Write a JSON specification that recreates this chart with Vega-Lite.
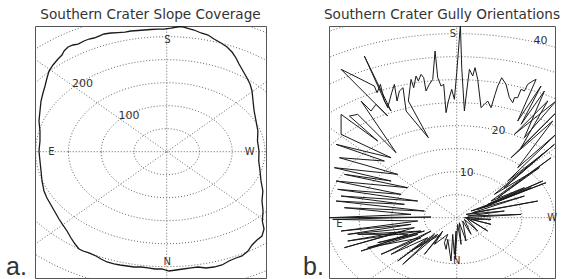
{
"$schema": "https://vega.github.io/schema/vega-lite/v6.json",
"padding": {"left": 5, "top": 7, "right": 0, "bottom": 0},
"config": {"view": {"stroke": "#555", "strokeWidth": 1}, "title": {"font": "DejaVu Sans", "fontSize": 13.6, "fontWeight": "normal", "color": "#333", "offset": 4}},
"spacing": 63,
"bounds": "flush",
"resolve": {"scale": {"size": "independent"}},
"datasets": {
"ringsA": [{"r":50},{"r":100},{"r":150},{"r":200},{"r":250},{"r":300},{"r":350}],
"ringsB": [{"r":5},{"r":10},{"r":15},{"r":20},{"r":25},{"r":30},{"r":35},{"r":40},{"r":45}],
"radialA": [{"x":0,"y":-400,"x2":0,"y2":400},{"x":-400,"y":0,"x2":400,"y2":0},{"x":-400,"y":-400,"x2":400,"y2":400},{"x":-400,"y":400,"x2":400,"y2":-400}],
"radialB": [{"x":0,"y":-60,"x2":0,"y2":60},{"x":-60,"y":0,"x2":60,"y2":0},{"x":-60,"y":-60,"x2":60,"y2":60},{"x":-60,"y":60,"x2":60,"y2":-60}],
"dirA": [{"t":"E","x":-175.9,"y":0},{"t":"W","x":126.7,"y":0},{"t":"S","x":0.9,"y":243.3},{"t":"N","x":0.8,"y":-239.8}],
"dirB": [{"t":"E","x":-18.06,"y":-1.43},{"t":"W","x":14.69,"y":0},{"t":"S","x":-0.57,"y":39.87},{"t":"N","x":0.02,"y":-9.48}],
"ringLabA": [{"t":"100","x":-70.7,"y":70.7},{"t":"200","x":-141.4,"y":141.4}],
"ringLabB": [{"t":"10","x":1.55,"y":9.72},{"t":"20","x":6.43,"y":18.85},{"t":"40","x":12.89,"y":38.41}],
"panelA": [{"t":"a.","x":-245.4,"y":-267.5}],
"panelB": [{"t":"b.","x":-23.65,"y":-12.35}],
"curveA": [
{"i":0,"x":-156.8,"y":218.9},{"i":1,"x":-150.7,"y":227.6},{"i":2,"x":-143.1,"y":232.0},{"i":3,"x":-135.4,"y":234.1},{"i":4,"x":-126.3,"y":240.7},{"i":5,"x":-118.6,"y":245.0},{"i":6,"x":-111.0,"y":247.2},{"i":7,"x":-103.4,"y":251.5},{"i":8,"x":-95.7,"y":255.9},{"i":9,"x":-85.1,"y":258.1},{"i":10,"x":-74.4,"y":259.1},{"i":11,"x":-63.7,"y":260.2},{"i":12,"x":-54.5,"y":262.4},{"i":13,"x":-43.8,"y":263.5},{"i":14,"x":-34.7,"y":264.6},{"i":15,"x":-24.0,"y":265.7},{"i":16,"x":-13.3,"y":266.7},{"i":17,"x":-4.1,"y":266.7},{"i":18,"x":6.6,"y":268.9},{"i":19,"x":15.7,"y":271.1},{"i":20,"x":23.4,"y":272.2},{"i":21,"x":31.0,"y":268.9},{"i":22,"x":41.7,"y":264.6},{"i":23,"x":52.4,"y":258.1},{"i":24,"x":63.1,"y":253.7},{"i":25,"x":72.2,"y":245.0},{"i":26,"x":82.9,"y":236.3},{"i":27,"x":92.1,"y":227.6},{"i":28,"x":99.7,"y":216.7},{"i":29,"x":105.8,"y":203.7},{"i":30,"x":110.4,"y":190.7},{"i":31,"x":116.5,"y":175.4},{"i":32,"x":122.6,"y":160.2},{"i":33,"x":127.2,"y":147.2},{"i":34,"x":130.3,"y":132.0},{"i":35,"x":131.8,"y":110.2},{"i":36,"x":133.5,"y":88.5},{"i":37,"x":136.4,"y":66.7},{"i":38,"x":139.2,"y":45.0},{"i":39,"x":138.6,"y":23.3},{"i":40,"x":140.9,"y":1.5},{"i":41,"x":140.5,"y":-20.2},{"i":42,"x":142.5,"y":-42.0},{"i":43,"x":144.0,"y":-63.7},{"i":44,"x":146.8,"y":-85.4},{"i":45,"x":145.5,"y":-107.2},{"i":46,"x":147.1,"y":-128.9},{"i":47,"x":146.0,"y":-150.7},{"i":48,"x":148.6,"y":-168.1},{"i":49,"x":145.5,"y":-183.3},{"i":50,"x":137.9,"y":-192.0},{"i":51,"x":130.3,"y":-202.8},{"i":52,"x":124.1,"y":-215.9},{"i":53,"x":115.0,"y":-226.7},{"i":54,"x":105.8,"y":-231.1},{"i":55,"x":95.1,"y":-237.6},{"i":56,"x":84.4,"y":-246.3},{"i":57,"x":72.2,"y":-250.7},{"i":58,"x":60.0,"y":-252.8},{"i":59,"x":47.8,"y":-250.7},{"i":60,"x":37.1,"y":-252.8},{"i":61,"x":24.9,"y":-255.0},{"i":62,"x":14.2,"y":-257.2},{"i":63,"x":3.5,"y":-259.4},{"i":64,"x":-7.2,"y":-255.0},{"i":65,"x":-17.9,"y":-255.0},{"i":66,"x":-28.6,"y":-252.8},{"i":67,"x":-39.2,"y":-250.7},{"i":68,"x":-49.9,"y":-250.7},{"i":69,"x":-60.6,"y":-248.5},{"i":70,"x":-71.3,"y":-246.3},{"i":71,"x":-80.5,"y":-244.1},{"i":72,"x":-91.2,"y":-239.8},{"i":73,"x":-100.3,"y":-233.3},{"i":74,"x":-108.0,"y":-226.7},{"i":75,"x":-118.6,"y":-220.2},{"i":76,"x":-127.8,"y":-215.9},{"i":77,"x":-133.9,"y":-211.5},{"i":78,"x":-140.0,"y":-200.7},{"i":79,"x":-146.1,"y":-187.6},{"i":80,"x":-152.2,"y":-172.4},{"i":81,"x":-158.4,"y":-159.4},{"i":82,"x":-164.5,"y":-146.3},{"i":83,"x":-170.6,"y":-131.1},{"i":84,"x":-176.7,"y":-115.9},{"i":85,"x":-182.8,"y":-100.7},{"i":86,"x":-187.4,"y":-85.4},{"i":87,"x":-190.4,"y":-63.7},{"i":88,"x":-191.9,"y":-42.0},{"i":89,"x":-193.5,"y":-20.2},{"i":90,"x":-195.0,"y":1.5},{"i":91,"x":-193.5,"y":23.3},{"i":92,"x":-193.5,"y":45.0},{"i":93,"x":-195.0,"y":66.7},{"i":94,"x":-193.5,"y":88.5},{"i":95,"x":-191.9,"y":110.2},{"i":96,"x":-188.9,"y":127.6},{"i":97,"x":-185.8,"y":142.8},{"i":98,"x":-182.8,"y":160.2},{"i":99,"x":-179.7,"y":175.4},{"i":100,"x":-173.6,"y":188.5},{"i":101,"x":-166.0,"y":201.5},{"i":102,"x":-159.9,"y":210.2},{"i":103,"x":-156.8,"y":218.9}
],
"gullyB": [
{"i":0,"x":5.28,"y":-0.36},{"i":1,"x":1.18,"y":0},{"i":2,"x":9.9,"y":0.72},{"i":3,"x":1.69,"y":0.36},{"i":4,"x":7.33,"y":1.45},{"i":5,"x":1.44,"y":0.72},{"i":6,"x":12.46,"y":3.62},{"i":7,"x":2.46,"y":1.09},{"i":8,"x":10.41,"y":4.71},{"i":9,"x":2.21,"y":1.45},{"i":10,"x":13.74,"y":7.61},{"i":11,"x":3.23,"y":1.81},{"i":12,"x":11.44,"y":6.52},{"i":13,"x":4,"y":2.17},{"i":14,"x":13.23,"y":7.97},{"i":15,"x":4.77,"y":2.9},{"i":16,"x":10.41,"y":6.52},{"i":17,"x":5.28,"y":3.62},{"i":18,"x":14.51,"y":13.04},{"i":19,"x":6.31,"y":4.35},{"i":20,"x":12.72,"y":10.87},{"i":21,"x":5.79,"y":5.07},{"i":22,"x":15.03,"y":15.94},{"i":23,"x":7.33,"y":6.52},{"i":24,"x":13.49,"y":14.13},{"i":25,"x":7.85,"y":7.97},{"i":26,"x":15.54,"y":18.48},{"i":27,"x":9.38,"y":10.87},{"i":28,"x":14.77,"y":21.01},{"i":29,"x":8.36,"y":13.04},{"i":30,"x":15.54,"y":23.19},{"i":31,"x":9.9,"y":15.22},{"i":32,"x":14,"y":25.36},{"i":33,"x":8.87,"y":18.12},{"i":34,"x":15.28,"y":25.36},{"i":35,"x":10.41,"y":17.39},{"i":36,"x":13.49,"y":27.54},{"i":37,"x":9.9,"y":20.29},{"i":38,"x":12.97,"y":28.62},{"i":39,"x":9.38,"y":21.01},{"i":40,"x":12.21,"y":30.07},
{"i":41,"x":11.69,"y":29.71},{"i":42,"x":10.92,"y":28.99},{"i":43,"x":10.41,"y":27.54},{"i":44,"x":9.9,"y":27.9},{"i":45,"x":9.38,"y":26.09},{"i":46,"x":8.87,"y":26.09},{"i":47,"x":8.62,"y":25},{"i":48,"x":8.1,"y":26.09},{"i":49,"x":7.59,"y":28.99},{"i":50,"x":6.92,"y":30.43},{"i":51,"x":6.31,"y":28.62},{"i":52,"x":5.9,"y":26.81},{"i":53,"x":5.28,"y":23.91},{"i":54,"x":4.77,"y":25.36},{"i":55,"x":4.26,"y":24.64},{"i":56,"x":3.74,"y":23.91},{"i":57,"x":3.23,"y":30.07},{"i":58,"x":2.82,"y":32.61},{"i":59,"x":2.46,"y":30.8},{"i":60,"x":1.95,"y":32.25},{"i":61,"x":1.54,"y":27.54},{"i":62,"x":1.18,"y":23.19},{"i":63,"x":0.77,"y":32.61},{"i":64,"x":0.56,"y":42.03},{"i":65,"x":0.26,"y":36.23},{"i":66,"x":0,"y":31.52},{"i":67,"x":-0.36,"y":25.72},{"i":68,"x":-0.77,"y":27.9},{"i":69,"x":-1.28,"y":25.36},{"i":70,"x":-1.64,"y":22.83},{"i":71,"x":-2,"y":28.99},{"i":72,"x":-2.41,"y":28.62},{"i":73,"x":-2.92,"y":30.43},{"i":74,"x":-3.33,"y":36.23},{"i":75,"x":-3.69,"y":30.07},{"i":76,"x":-4.21,"y":28.99},{"i":77,"x":-4.72,"y":27.54},{"i":78,"x":-5.08,"y":30.43},{"i":79,"x":-5.49,"y":31.16},{"i":80,"x":-5.9,"y":29.71},{"i":81,"x":-6.26,"y":30.8},{"i":82,"x":-6.62,"y":28.26},{"i":83,"x":-7.03,"y":30.07},{"i":84,"x":-7.44,"y":25.36},{"i":85,"x":-4.36,"y":17.39},{"i":86,"x":-7.79,"y":23.19},{"i":87,"x":-8.26,"y":28.26},{"i":88,"x":-8.82,"y":27.54},{"i":89,"x":-9.18,"y":25.36},{"i":90,"x":-9.59,"y":28.99},{"i":91,"x":-10,"y":27.17},{"i":92,"x":-10.62,"y":23.91},{"i":93,"x":-14.21,"y":35.14},{"i":94,"x":-10.1,"y":23.19},{"i":95,"x":-11.13,"y":25.36},{"i":96,"x":-11.74,"y":28.99},{"i":97,"x":-12.26,"y":27.17},{"i":98,"x":-12.67,"y":28.62},{"i":99,"x":-17.79,"y":32.25},{"i":100,"x":-10.62,"y":22.1},{"i":101,"x":-12.41,"y":24.64},{"i":102,"x":-13.18,"y":23.19},{"i":103,"x":-14.72,"y":25.36},{"i":104,"x":-9.33,"y":14.13},{"i":105,"x":-15.23,"y":22.46},{"i":106,"x":-16.51,"y":22.1},{"i":107,"x":-12.15,"y":16.67},{"i":108,"x":-17.79,"y":22.46},
{"i":109,"x":-17.79,"y":18.12},{"i":110,"x":-10.1,"y":13.04},{"i":111,"x":-18.56,"y":15.94},{"i":112,"x":-11.13,"y":12.32},{"i":113,"x":-18.05,"y":13.04},{"i":114,"x":-9.08,"y":9.42},{"i":115,"x":-18.82,"y":10.87},{"i":116,"x":-10.1,"y":7.97},{"i":117,"x":-17.28,"y":9.42},{"i":118,"x":-7.54,"y":6.52},{"i":119,"x":-18.56,"y":7.97},{"i":120,"x":-8.56,"y":5.07},{"i":121,"x":-18.31,"y":6.16},{"i":122,"x":-6,"y":3.62},{"i":123,"x":-17.79,"y":4.71},{"i":124,"x":-8.05,"y":2.9},{"i":125,"x":-18.56,"y":3.62},{"i":126,"x":-4.97,"y":1.45},{"i":127,"x":-17.28,"y":2.17},{"i":128,"x":-7.03,"y":0.72},{"i":129,"x":-19.59,"y":0},{"i":130,"x":-3.95,"y":0.14},{"i":131,"x":-19.08,"y":-0.36},
{"i":132,"x":-6,"y":-0.72},{"i":133,"x":-17.79,"y":-2.9},{"i":134,"x":-7.03,"y":-1.45},{"i":135,"x":-16.77,"y":-3.62},{"i":136,"x":-6.51,"y":-2.17},{"i":137,"x":-17.28,"y":-6.52},{"i":138,"x":-8.05,"y":-2.9},{"i":139,"x":-16.77,"y":-5.07},{"i":140,"x":-5.49,"y":-2.9},{"i":141,"x":-15.23,"y":-3.62},{"i":142,"x":-7.54,"y":-3.62},{"i":143,"x":-14.72,"y":-7.25},{"i":144,"x":-6,"y":-3.62},{"i":145,"x":-12.15,"y":-5.43},{"i":146,"x":-4.97,"y":-2.9},{"i":147,"x":-13.69,"y":-6.52},{"i":148,"x":-5.49,"y":-4.35},{"i":149,"x":-11.64,"y":-7.97},{"i":150,"x":-3.95,"y":-2.9},{"i":151,"x":-10.1,"y":-7.97},{"i":152,"x":-4.46,"y":-4.35},{"i":153,"x":-9.08,"y":-9.42},{"i":154,"x":-3.44,"y":-3.62},{"i":155,"x":-8.31,"y":-10.14},{"i":156,"x":-2.92,"y":-3.62},{"i":157,"x":-7.03,"y":-7.25},{"i":158,"x":-2.41,"y":-3.62},{"i":159,"x":-4.97,"y":-7.97},{"i":160,"x":-2.15,"y":-2.9},{"i":161,"x":-3.44,"y":-5.8},{"i":162,"x":-1.38,"y":-3.62},{"i":163,"x":-1.9,"y":-5.43},{"i":164,"x":-1.64,"y":-6.88},{"i":165,"x":-1.38,"y":-4.71},{"i":166,"x":-0.87,"y":-9.42},{"i":167,"x":-0.62,"y":-3.62},{"i":168,"x":-0.36,"y":-7.97},{"i":169,"x":-0.1,"y":-2.9},{"i":170,"x":-0.26,"y":-9.06},{"i":171,"x":0.15,"y":-1.45},{"i":172,"x":0.67,"y":-5.8},{"i":173,"x":0.41,"y":-1.09},{"i":174,"x":1.44,"y":-5.07},{"i":175,"x":0.92,"y":-0.72},{"i":176,"x":2.21,"y":-3.62},{"i":177,"x":1.18,"y":-0.36},{"i":178,"x":3.23,"y":-2.9},{"i":179,"x":1.44,"y":0},{"i":180,"x":4.77,"y":-2.9},{"i":181,"x":1.69,"y":-0.14},{"i":182,"x":5.28,"y":-1.45},{"i":183,"x":2.21,"y":-0.36},{"i":184,"x":5.28,"y":-0.36}
]
},
"hconcat": [
{
"width": 231, "height": 252,
"title": "Southern Crater Slope Coverage",
"layer": [
{"data": {"name": "ringsA"},
 "mark": {"type": "point", "shape": "M -1 0 C -1 -0.3879 -0.5523 -0.7023 0 -0.7023 C 0.5523 -0.7023 1 -0.3879 1 0 C 1 0.3879 0.5523 0.7023 0 0.7023 C -0.5523 0.7023 -1 0.3879 -1 0 Z", "filled": false, "stroke": "#666", "strokeWidth": 1, "strokeDash": [1, 2], "opacity": 1, "clip": true},
 "encoding": {
  "x": {"datum": 0, "type": "quantitative", "scale": {"domain": [-201.1, 151.6], "nice": false, "zero": false}, "axis": null},
  "y": {"datum": 0, "type": "quantitative", "scale": {"domain": [-274.6, 273.3], "nice": false, "zero": false}, "axis": null},
  "size": {"field": "r", "type": "quantitative", "scale": {"type": "pow", "exponent": 2, "domain": [0, 350], "range": [0, 210222]}, "legend": null}
 }},
{"data": {"name": "radialA"},
 "mark": {"type": "rule", "stroke": "#666", "strokeWidth": 1, "strokeDash": [1, 2], "clip": true},
 "encoding": {
  "x": {"field": "x", "type": "quantitative", "scale": {"domain": [-201.1, 151.6], "nice": false, "zero": false}, "axis": null},
  "y": {"field": "y", "type": "quantitative", "scale": {"domain": [-274.6, 273.3], "nice": false, "zero": false}, "axis": null},
  "x2": {"field": "x2"}, "y2": {"field": "y2"}
 }},
{"data": {"name": "dirA"},
 "mark": {"type": "text", "font": "DejaVu Sans", "fontSize": 10, "color": "#333", "align": "center", "baseline": "middle"},
 "encoding": {"x": {"field": "x", "type": "quantitative"}, "y": {"field": "y", "type": "quantitative"}, "text": {"field": "t"}}},
{"data": {"name": "ringLabA"},
 "mark": {"type": "text", "font": "DejaVu Sans", "fontSize": 11, "color": "#333", "align": "left", "baseline": "alphabetic", "dx": -2},
 "encoding": {"x": {"field": "x", "type": "quantitative"}, "y": {"field": "y", "type": "quantitative"}, "text": {"field": "t"}}},
{"data": {"name": "curveA"},
 "mark": {"type": "line", "stroke": "#1a1a1a", "strokeWidth": 1.3, "clip": true},
 "encoding": {"x": {"field": "x", "type": "quantitative"}, "y": {"field": "y", "type": "quantitative"}, "order": {"field": "i", "type": "quantitative"}}},
{"data": {"name": "panelA"},
 "mark": {"type": "text", "font": "Liberation Sans", "fontSize": 25, "color": "#333", "align": "left", "baseline": "alphabetic"},
 "encoding": {"x": {"field": "x", "type": "quantitative"}, "y": {"field": "y", "type": "quantitative"}, "text": {"field": "t"}}}
]
},
{
"width": 226, "height": 252,
"title": "Southern Crater Gully Orientations",
"layer": [
{"data": {"name": "ringsB"},
 "mark": {"type": "point", "shape": "M -1 0 C -1 -0.3909 -0.5523 -0.7078 0 -0.7078 C 0.5523 -0.7078 1 -0.3909 1 0 C 1 0.3909 0.5523 0.7078 0 0.7078 C -0.5523 0.7078 -1 0.3909 -1 0 Z", "filled": false, "stroke": "#666", "strokeWidth": 1, "strokeDash": [1, 2], "opacity": 1, "clip": true},
 "encoding": {
  "x": {"datum": 0, "type": "quantitative", "scale": {"domain": [-19.65, 15.12], "nice": false, "zero": false}, "axis": null},
  "y": {"datum": 0, "type": "quantitative", "scale": {"domain": [-13.11, 41.67], "nice": false, "zero": false}, "axis": null},
  "size": {"field": "r", "type": "quantitative", "scale": {"type": "pow", "exponent": 2, "domain": [0, 45], "range": [0, 342225]}, "legend": null}
 }},
{"data": {"name": "radialB"},
 "mark": {"type": "rule", "stroke": "#666", "strokeWidth": 1, "strokeDash": [1, 2], "clip": true},
 "encoding": {
  "x": {"field": "x", "type": "quantitative", "scale": {"domain": [-19.65, 15.12], "nice": false, "zero": false}, "axis": null},
  "y": {"field": "y", "type": "quantitative", "scale": {"domain": [-13.11, 41.67], "nice": false, "zero": false}, "axis": null},
  "x2": {"field": "x2"}, "y2": {"field": "y2"}
 }},
{"data": {"name": "dirB"},
 "mark": {"type": "text", "font": "DejaVu Sans", "fontSize": 10, "color": "#333", "align": "center", "baseline": "middle"},
 "encoding": {"x": {"field": "x", "type": "quantitative"}, "y": {"field": "y", "type": "quantitative"}, "text": {"field": "t"}}},
{"data": {"name": "ringLabB"},
 "mark": {"type": "text", "font": "DejaVu Sans", "fontSize": 11, "color": "#333", "align": "center", "baseline": "middle"},
 "encoding": {"x": {"field": "x", "type": "quantitative"}, "y": {"field": "y", "type": "quantitative"}, "text": {"field": "t"}}},
{"data": {"name": "gullyB"},
 "mark": {"type": "line", "stroke": "#1a1a1a", "strokeWidth": 1, "clip": true},
 "encoding": {"x": {"field": "x", "type": "quantitative"}, "y": {"field": "y", "type": "quantitative"}, "order": {"field": "i", "type": "quantitative"}}},
{"data": {"name": "panelB"},
 "mark": {"type": "text", "font": "Liberation Sans", "fontSize": 25, "color": "#333", "align": "left", "baseline": "alphabetic"},
 "encoding": {"x": {"field": "x", "type": "quantitative"}, "y": {"field": "y", "type": "quantitative"}, "text": {"field": "t"}}}
]
}
]
}
